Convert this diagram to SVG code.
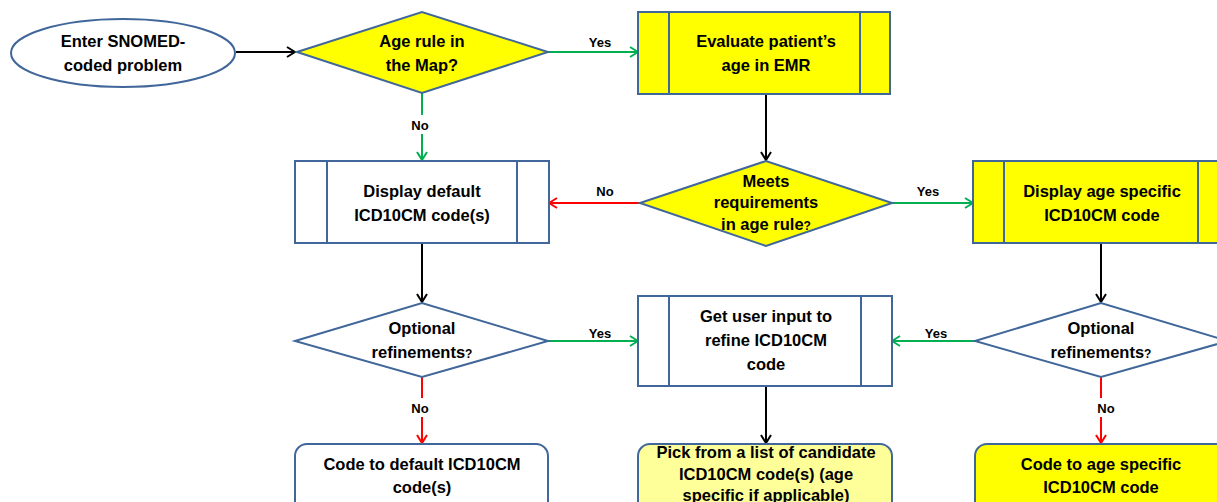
<svg xmlns="http://www.w3.org/2000/svg" width="1217" height="502" viewBox="0 0 1217 502">
  <style>
    .shape { stroke: #41679A; stroke-width: 2; }
    .white { fill: #FFFFFF; }
    .yellow { fill: #FFFF00; }
    .pale { fill: #FFFF99; }
    .t { font-family: "Liberation Sans", Arial, sans-serif; font-weight: bold; font-size: 16.5px; fill: #000; text-anchor: middle; }
    .lbl { font-family: "Liberation Sans", Arial, sans-serif; font-weight: bold; font-size: 13px; fill: #000; text-anchor: middle; }
    .blk { stroke: #000; stroke-width: 2; fill: none; }
    .grn { stroke: #00B050; stroke-width: 2; fill: none; }
    .red { stroke: #FF0000; stroke-width: 2; fill: none; }
    .gap { fill: #FFFFFF; }
  </style>
  <defs>
    <marker id="ah-black" viewBox="0 0 12 12" refX="11" refY="6" markerWidth="12" markerHeight="12" markerUnits="userSpaceOnUse" orient="auto">
      <path d="M3,1 L11,6 L3,11" fill="none" stroke="#000" stroke-width="2"/>
    </marker>
    <marker id="ah-green" viewBox="0 0 12 12" refX="11" refY="6" markerWidth="12" markerHeight="12" markerUnits="userSpaceOnUse" orient="auto">
      <path d="M3,1 L11,6 L3,11" fill="none" stroke="#00B050" stroke-width="2"/>
    </marker>
    <marker id="ah-red" viewBox="0 0 12 12" refX="11" refY="6" markerWidth="12" markerHeight="12" markerUnits="userSpaceOnUse" orient="auto">
      <path d="M3,1 L11,6 L3,11" fill="none" stroke="#FF0000" stroke-width="2"/>
    </marker>
  </defs>

  <rect width="1217" height="502" fill="#FFFFFF"/>

  <!-- connectors -->
  <g id="connectors">
    <line class="blk" x1="236" y1="52" x2="295" y2="52" marker-end="url(#ah-black)"/>
    <line class="grn" x1="548" y1="52" x2="638" y2="52" marker-end="url(#ah-green)"/>
    <line class="grn" x1="422" y1="93" x2="422" y2="160" marker-end="url(#ah-green)"/>
    <line class="blk" x1="766" y1="94" x2="766" y2="160" marker-end="url(#ah-black)"/>
    <line class="red" x1="640" y1="203" x2="549" y2="203" marker-end="url(#ah-red)"/>
    <line class="grn" x1="892" y1="203" x2="973" y2="203" marker-end="url(#ah-green)"/>
    <line class="blk" x1="422" y1="243" x2="422" y2="302" marker-end="url(#ah-black)"/>
    <line class="blk" x1="1101" y1="244" x2="1101" y2="302" marker-end="url(#ah-black)"/>
    <line class="grn" x1="548" y1="341" x2="638" y2="341" marker-end="url(#ah-green)"/>
    <line class="grn" x1="975" y1="341" x2="892" y2="341" marker-end="url(#ah-green)"/>
    <line class="red" x1="422" y1="377" x2="422" y2="443" marker-end="url(#ah-red)"/>
    <line class="red" x1="1101" y1="377" x2="1101" y2="443" marker-end="url(#ah-red)"/>
    <line class="blk" x1="766" y1="386" x2="766" y2="443" marker-end="url(#ah-black)"/>
    <!-- labels that sit on vertical lines break the line -->
    <rect class="gap" x="408" y="115" width="26" height="19"/>
    <rect class="gap" x="408" y="398" width="26" height="19"/>
    <rect class="gap" x="1092" y="398" width="26" height="19"/>
    <text class="lbl" x="600" y="47">Yes</text>
    <text class="lbl" x="420" y="130">No</text>
    <text class="lbl" x="605" y="196">No</text>
    <text class="lbl" x="928" y="196">Yes</text>
    <text class="lbl" x="600" y="338">Yes</text>
    <text class="lbl" x="936" y="338">Yes</text>
    <text class="lbl" x="420" y="413">No</text>
    <text class="lbl" x="1106" y="413">No</text>
  </g>

  <g id="start">
    <ellipse class="shape white" cx="123" cy="53" rx="112" ry="34"/>
    <text class="t" x="123" y="47">Enter SNOMED-</text>
    <text class="t" x="123" y="71">coded problem</text>
  </g>

  <g id="age-rule">
    <polygon class="shape yellow" points="297,52 422,12 548,52 422,93"/>
    <text class="t" x="422" y="47">Age rule in</text>
    <text class="t" x="422" y="71">the Map?</text>
  </g>

  <g id="evaluate-age">
    <rect class="shape yellow" x="638" y="12" width="252" height="82"/>
    <line class="shape" x1="669" y1="12" x2="669" y2="94"/>
    <line class="shape" x1="860" y1="12" x2="860" y2="94"/>
    <text class="t" x="766" y="47">Evaluate patient’s</text>
    <text class="t" x="766" y="71">age in EMR</text>
  </g>

  <g id="display-default">
    <rect class="shape white" x="295" y="161" width="254" height="82"/>
    <line class="shape" x1="327" y1="161" x2="327" y2="243"/>
    <line class="shape" x1="517" y1="161" x2="517" y2="243"/>
    <text class="t" x="422" y="197">Display default</text>
    <text class="t" x="422" y="221">ICD10CM code(s)</text>
  </g>

  <g id="meets-requirements">
    <polygon class="shape yellow" points="640,203 766,161 892,203 766,246"/>
    <text class="t" x="766" y="187">Meets</text>
    <text class="t" x="766" y="208">requirements</text>
    <text class="t" x="766" y="230">in age rule<tspan font-size="12px">?</tspan></text>
  </g>

  <g id="display-age-specific">
    <rect class="shape yellow" x="973" y="161" width="258" height="82"/>
    <line class="shape" x1="1004" y1="161" x2="1004" y2="243"/>
    <line class="shape" x1="1198" y1="161" x2="1198" y2="243"/>
    <text class="t" x="1102" y="197">Display age specific</text>
    <text class="t" x="1102" y="221">ICD10CM code</text>
  </g>

  <g id="optional-left">
    <polygon class="shape white" points="295,341 422,303 548,341 422,377"/>
    <text class="t" x="422" y="334">Optional</text>
    <text class="t" x="422" y="358">refinements<tspan font-size="12px">?</tspan></text>
  </g>

  <g id="user-input">
    <rect class="shape white" x="638" y="296" width="254" height="90"/>
    <line class="shape" x1="669" y1="296" x2="669" y2="386"/>
    <line class="shape" x1="861" y1="296" x2="861" y2="386"/>
    <text class="t" x="766" y="322">Get user input to</text>
    <text class="t" x="766" y="346">refine ICD10CM</text>
    <text class="t" x="766" y="370">code</text>
  </g>

  <g id="optional-right">
    <polygon class="shape white" points="975,341 1101,303 1228,341 1101,377"/>
    <text class="t" x="1101" y="334">Optional</text>
    <text class="t" x="1101" y="358">refinements<tspan font-size="12px">?</tspan></text>
  </g>

  <g id="code-default">
    <rect class="shape white" x="295" y="444" width="253" height="70" rx="12"/>
    <text class="t" x="422" y="470">Code to default ICD10CM</text>
    <text class="t" x="422" y="493">code(s)</text>
  </g>

  <g id="pick-candidate">
    <rect class="shape pale" x="638" y="444" width="254" height="70" rx="12"/>
    <text class="t" x="766" y="458">Pick from a list of candidate</text>
    <text class="t" x="766" y="480">ICD10CM code(s) (age</text>
    <text class="t" x="766" y="501">specific if applicable)</text>
  </g>

  <g id="code-age-specific">
    <rect class="shape yellow" x="975" y="444" width="253" height="70" rx="12"/>
    <text class="t" x="1101" y="470">Code to age specific</text>
    <text class="t" x="1101" y="493">ICD10CM code</text>
  </g>
</svg>
